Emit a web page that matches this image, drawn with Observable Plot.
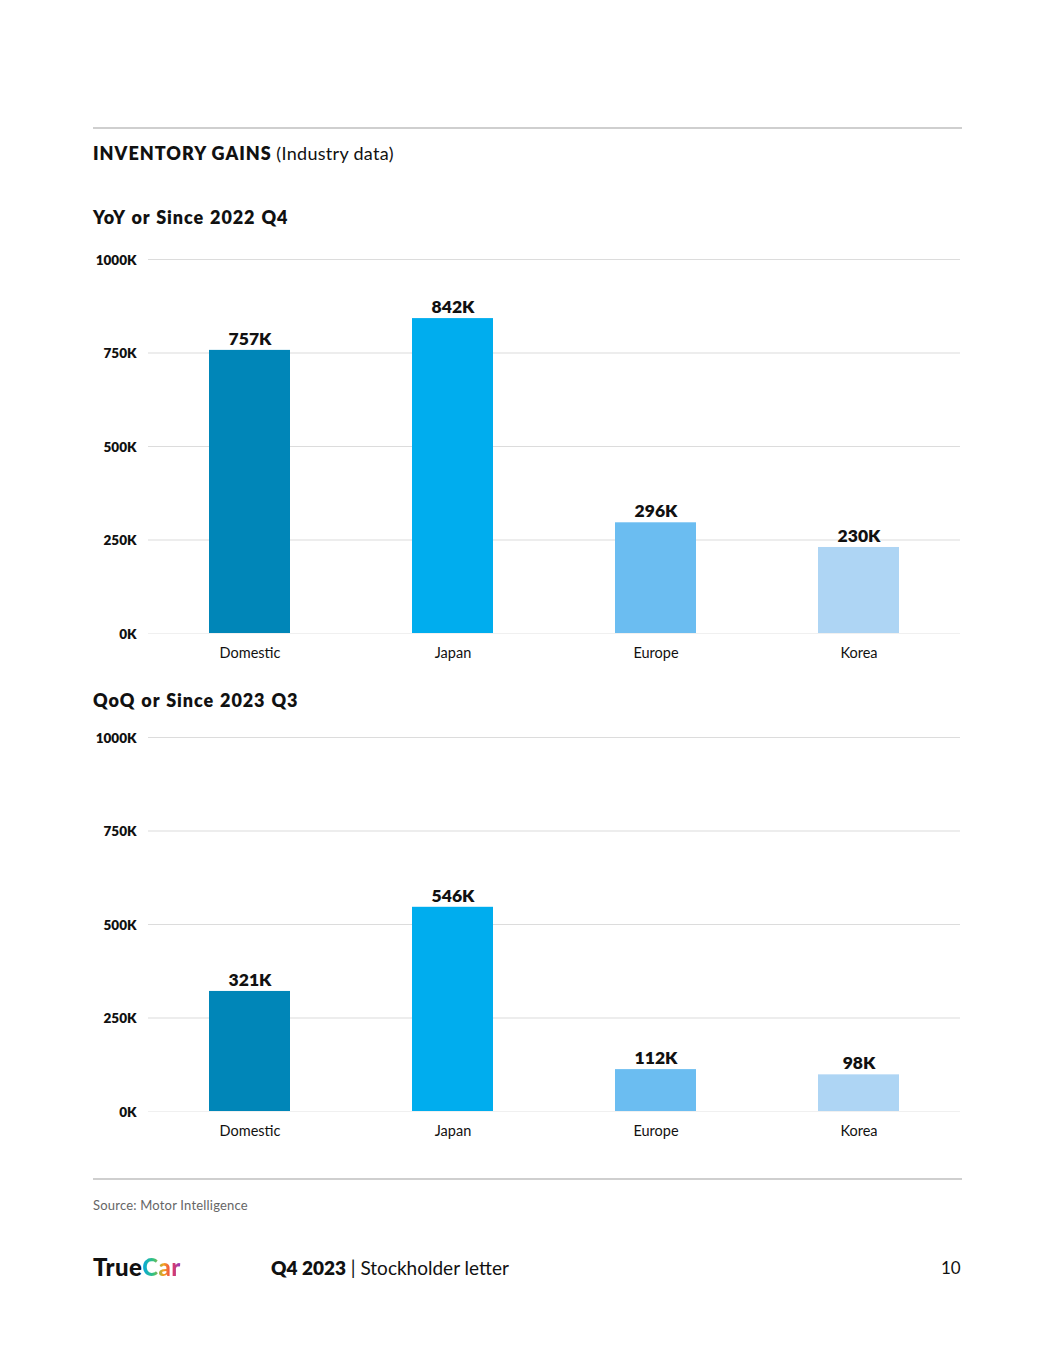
<!DOCTYPE html>
<html>
<head>
<meta charset="utf-8">
<script src="https://cdn.jsdelivr.net/npm/d3@7"></script>
<script src="https://cdn.jsdelivr.net/npm/@observablehq/plot@0.6"></script>
<style>
  body { margin: 0; background: #fff; font-family: Lato, "Noto Sans", sans-serif; color: #111; }
  #page { position: relative; width: 1055px; height: 1365px; overflow: hidden; }
  .abs { position: absolute; }
  .rule { position: absolute; left: 93px; width: 869px; height: 2px; background: #cfcfcf; }
  .title { left: 93px; top: 142px; font-size: 18px; white-space: nowrap; }
  .title b { font-weight: 800; letter-spacing: 1px; }
  .title span { letter-spacing: 0.3px; }
  .sub { left: 93px; font-size: 18px; font-weight: 800; white-space: nowrap; letter-spacing: 0.9px; word-spacing: 1px; }
  .chart { left: 0; }
  .source { left: 93px; top: 1197px; font-size: 13px; color: #666; letter-spacing: 0.2px; }
  .logo { left: 93px; top: 1252px; font-size: 24px; font-weight: 900; letter-spacing: 0.4px; }
  .logo .car { background: linear-gradient(90deg, #00a6e6 0%, #36c27a 30%, #f6a21e 55%, #ec3a52 75%, #8a3cc9 100%);
    -webkit-background-clip: text; background-clip: text; color: transparent; }
  .footer { left: 271px; top: 1256px; font-size: 19px; white-space: nowrap; }
  .footer b { font-weight: 800; }
  .pagenum { left: 941px; top: 1257px; font-size: 17px; }
</style>
</head>
<body>
<div id="page">
  <div class="rule" style="top:127px"></div>
  <div class="abs title"><b>INVENTORY GAINS</b> <span>(Industry data)</span></div>
  <div class="abs sub" style="top:206px">YoY or Since 2022 Q4</div>
  <div class="abs chart" id="c1" style="top:245px"></div>
  <div class="abs sub" style="top:689px">QoQ or Since 2023 Q3</div>
  <div class="abs chart" id="c2" style="top:723px"></div>
  <div class="rule" style="top:1178px"></div>
  <div class="abs source">Source: Motor Intelligence</div>
  <div class="abs logo">True<span class="car">Car</span></div>
  <div class="abs footer"><b>Q4 2023</b> | Stockholder letter</div>
  <div class="abs pagenum">10</div>
</div>
<script>
const categories = ["Domestic", "Japan", "Europe", "Korea"];
const colors = ["#0086b8", "#00adee", "#6bbdf1", "#aed5f4"];
const yoyValues = [757, 842, 296, 230];
const qoqValues = [321, 546, 112, 98];
const yTicks = [0, 250, 500, 750, 1000];

function makeChart(values) {
  const data = categories.map((c, i) => ({ category: c, value: values[i] }));
  return Plot.plot({
    width: 1055,
    height: 423,
    marginTop: 14,
    marginBottom: 35,
    marginLeft: 148,
    marginRight: 95,
    style: { fontFamily: "Lato, 'Noto Sans', sans-serif", color: "#111", background: "transparent" },
    x: { domain: categories, paddingInner: 0.6, paddingOuter: 0.3, label: null },
    y: { domain: [0, 1000], ticks: yTicks, label: null },
    color: { domain: categories, range: colors },
    marks: [
      Plot.ruleY(yTicks.filter(t => t > 0), { stroke: "#dcdcdc", strokeWidth: 1.2 }),
      Plot.ruleY([0], { stroke: "#f0f0f0", strokeWidth: 1.2 }),
      Plot.barY(data, { x: "category", y: "value", fill: "category" }),
      Plot.text(data, { x: "category", y: "value", text: d => d.value + "K", dy: -11,
        fontSize: 17.5, fontWeight: 800, fill: "#111" }),
      Plot.axisY({ ticks: yTicks, tickFormat: d => d + "K", tickSize: 0, tickPadding: 12,
        fontSize: 13.5, fontWeight: 800, fill: "#111", dy: 1 }),
      Plot.axisX({ tickSize: 0, tickPadding: 14, fontSize: 14.5, fill: "#111" })
    ]
  });
}
document.getElementById("c1").appendChild(makeChart(yoyValues));
document.getElementById("c2").appendChild(makeChart(qoqValues));
</script>
</body>
</html>
